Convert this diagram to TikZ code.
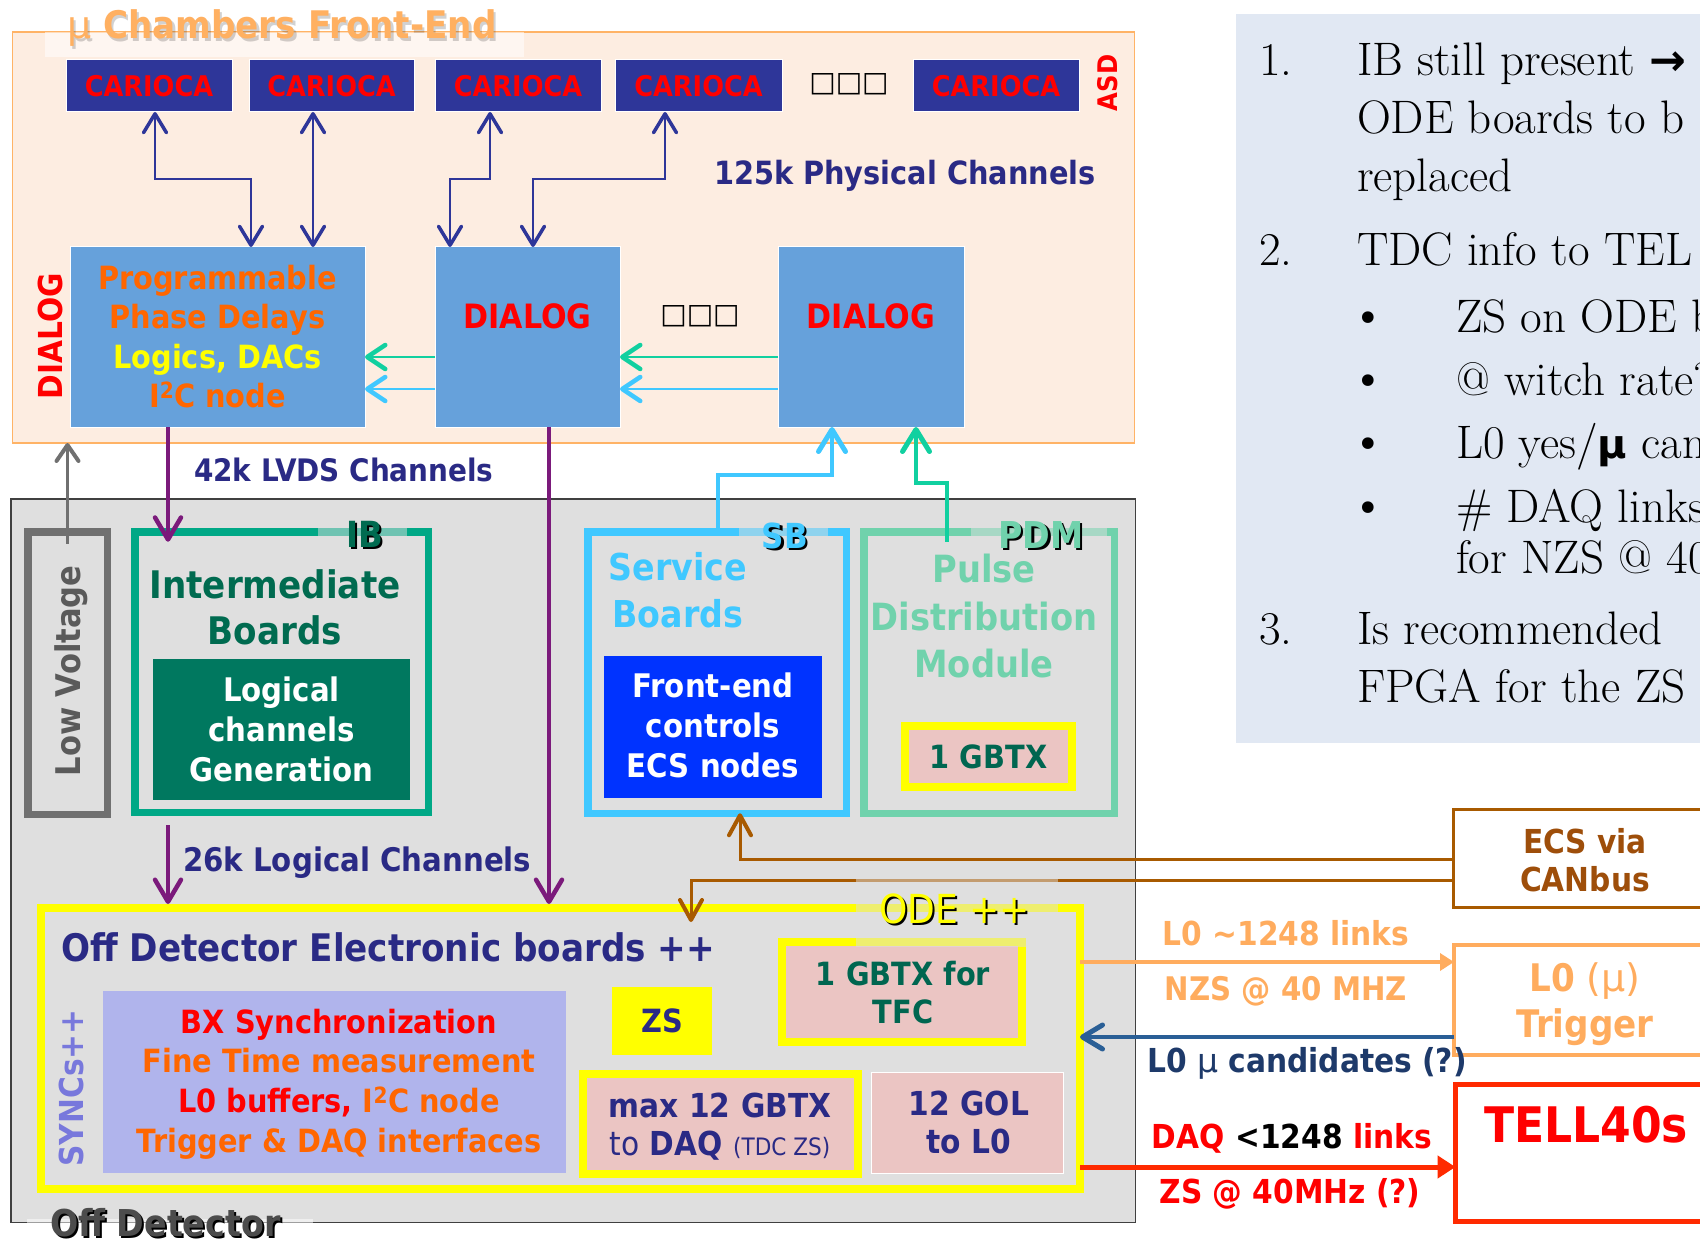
\documentclass[tikz,border=0pt]{standalone}
\usepackage{fontspec}
\newfontfamily\tah{DejaVu Sans}[FakeStretch=0.9]
\newfontfamily\djv{DejaVu Sans}
\newfontfamily\lser{Liberation Serif}
\usetikzlibrary{arrows.meta}
\newcommand{\fsz}[2]{\fontsize{#1pt}{#2pt}\selectfont}
\definecolor{cFE}{HTML}{FDEDE1}
\definecolor{cFEb}{HTML}{FFB366}
\definecolor{cTitle}{HTML}{FFB061}
\definecolor{cCar}{HTML}{2E3699}
\definecolor{cNavy}{HTML}{2A2A85}
\definecolor{cDia}{HTML}{66A1DB}
\definecolor{cOr}{HTML}{FF6600}
\definecolor{cYel}{HTML}{FFFF00}
\definecolor{cGrnA}{HTML}{11D0A0}
\definecolor{cCyan}{HTML}{40C8FF}
\definecolor{cPur}{HTML}{7B1A7B}
\definecolor{cOff}{HTML}{DFDFDF}
\definecolor{cOffB}{HTML}{404040}
\definecolor{cLV}{HTML}{707070}
\definecolor{cLVt}{HTML}{5A5A5A}
\definecolor{cIB}{HTML}{00A886}
\definecolor{cIBt}{HTML}{006B50}
\definecolor{cIBin}{HTML}{00785F}
\definecolor{cBlue}{HTML}{0033FF}
\definecolor{cPDM}{HTML}{70D2AC}
\definecolor{cPink}{HTML}{EBC5C3}
\definecolor{cLav}{HTML}{B0B4EC}
\definecolor{cSync}{HTML}{7878DC}
\definecolor{cTFC}{HTML}{006650}
\definecolor{cBrown}{HTML}{A85A00}
\definecolor{cECSt}{HTML}{9E4E0A}
\definecolor{cL0}{HTML}{FFAC5E}
\definecolor{cCandL}{HTML}{2A5F96}
\definecolor{cCandT}{HTML}{1E3A6A}
\definecolor{cRedL}{HTML}{FF2A00}
\definecolor{cInfo}{HTML}{E1E8F3}
\tikzset{
  tipN/.tip={Straight Barb[length=19pt,width=23pt,line width=3.5pt,round]},
  tipG/.tip={Straight Barb[length=18pt,width=24pt,line width=4.5pt,round]},
  tipP/.tip={Straight Barb[length=22pt,width=26pt,line width=4.5pt,round]},
  tipL/.tip={Straight Barb[length=16pt,width=22pt,line width=4pt,round]},
  tipC/.tip={Straight Barb[length=22pt,width=27pt,line width=5pt,round]},
  tipB/.tip={Straight Barb[length=20pt,width=22pt,line width=4pt,round]},
  tipT/.tip={Triangle[length=14pt,width=17pt]},
  tipD/.tip={Straight Barb[length=20pt,width=24pt,line width=5pt,round]},
  tipR/.tip={Triangle[length=18pt,width=22pt]},
  bx/.style={rectangle, inner sep=0pt, outer sep=0pt, anchor=north west},
  t/.style n args={2}{inner sep=0pt, outer sep=0pt, align=center, font={\tah\bfseries\fsz{#1}{#2}}},
  ser/.style={inner sep=0pt, outer sep=0pt, anchor=base west, font={\fsz{47}{47}}},
  bul/.style={inner sep=0pt, outer sep=0pt, anchor=base west, font={\djv\fsz{40}{40}}},
  car/.style={bx, fill=cCar, draw=white, line width=1pt, minimum height=52pt, text=red, font={\tah\bfseries\fsz{28.5}{28.5}}},
  dia/.style={bx, fill=cDia, draw=white, line width=1pt, minimum height=180pt},
  thick box/.style={bx, line width=7.5pt},
  ybox/.style={bx, draw=cYel, line width=8pt, fill=cPink},
  navyarr/.style={draw=cCar, line width=2pt, tipN-tipN},
  grnarr/.style={draw=cGrnA, line width=2pt, -tipG},
  cyanarr/.style={draw=cCyan, line width=2pt, -tipG},
  purarr/.style={draw=cPur, line width=4.5pt, -tipP},
  grayarr/.style={draw=cLV, line width=3.5pt, -tipL},
  sbconn/.style={draw=cCyan, line width=4.5pt, -tipC},
  pdmconn/.style={draw=cGrnA, line width=4.5pt, -tipC},
  brownarr/.style={draw=cBrown, line width=3pt, -tipB},
  orarr/.style={draw=cL0, line width=4.5pt, -tipT},
  bluearr/.style={draw=cCandL, line width=4.5pt, -tipD},
  redarr/.style={draw=cRedL, line width=5pt, -tipR},
  lblbg/.style={bx, fill=cOff, fill opacity=0.5, minimum height=10pt},
}
\begin{document}
\begin{tikzpicture}[x=1pt,y=-1pt]
\useasboundingbox (0,0) rectangle (1700,1241);
\fill[white] (0,0) rectangle (1700,1241);

% ---------- info box ----------
\node[bx, fill=cInfo, minimum width=520pt, minimum height=729pt] (info) at (1236,14) {};
\node[ser] (n1) at (1259,76) {1.};
\node[ser] (i1) at (1357,76) {IB still present {\djv\bfseries\fsz{44}{44}→}};
\node[ser] (i2) at (1357,134) {ODE boards to b};
\node[ser] (i3) at (1357,192) {replaced};
\node[ser] (n2) at (1259,266) {2.};
\node[ser] (i4) at (1357,266) {TDC info to TEL};
\node[bul] (bu1) at (1356,332) {•};
\node[ser] (i5) at (1456,332) {ZS on ODE b};
\node[bul] (bu2) at (1356,395) {•};
\node[ser] (i6) at (1456,395) {@ witch rate?};
\node[bul] (bu3) at (1356,458) {•};
\node[ser] (i7) at (1456,458) {L0 yes/{\djv\bfseries\fsz{40}{40}μ} cand};
\node[bul] (bu4) at (1356,522) {•};
\node[ser] (i8) at (1456,522) {\# DAQ links};
\node[ser] (i9) at (1456,573) {for NZS @ 40};
\node[ser] (n3) at (1259,644) {3.};
\node[ser] (i10) at (1357,644) {Is recommended};
\node[ser] (i11) at (1357,702) {FPGA for the ZS};

% ---------- front-end ----------
\node[bx, draw=cFEb, line width=1.5pt, fill=cFE, minimum width=1122pt, minimum height=411pt] (fe) at (12.5,32) {};
\node[bx, fill=white, fill opacity=0.55, minimum width=479pt, minimum height=25pt] (titlebg) at (45,32) {};
\node[t={38}{38}, anchor=base west, text=black, text opacity=0.18] (titlesh) at (69.5,41.5) {{\djv\mdseries μ} Chambers Front-End};
\node[t={38}{38}, anchor=base west, text=cTitle] (title) at (67,39) {{\djv\mdseries μ} Chambers Front-End};

\node[car, minimum width=166pt] (c1) at (66,60) {CARIOCA};
\node[car, minimum width=165pt] (c2) at (249,60) {CARIOCA};
\node[car, minimum width=166pt] (c3) at (435,60) {CARIOCA};
\node[car, minimum width=167pt] (c4) at (615,60) {CARIOCA};
\node[car, minimum width=166pt] (c5) at (913,60) {CARIOCA};
\node[inner sep=0pt, font={\djv\bfseries\fsz{28}{28}}] (dots1) at (849,84) {□□□};
\node[t={27}{27}, rotate=90, text=red] (asd) at (1108,83) {ASD};
\node[t={32}{32}, anchor=base west, text=cNavy] (phys) at (714,185) {125k Physical Channels};

\node[dia, minimum width=295pt] (prog) at (70,247) {};
\node[t={32}{39.5}, anchor=north, text=cOr] (progt) at (217.5,264.7) {Programmable\\Phase Delays\\\textcolor{cYel}{Logics, DACs}\\I\textsuperscript{2}C node};
\node[dia, minimum width=185pt] (d2) at (435,247) {};
\node[dia, minimum width=186pt] (d3) at (778,247) {};
\node[t={33.5}{33.5}, anchor=base, text=red] (d2t) at (527.5,328) {DIALOG};
\node[t={33.5}{33.5}, anchor=base, text=red] (d3t) at (871,328) {DIALOG};
\node[inner sep=0pt, font={\djv\bfseries\fsz{28}{28}}] (dots2) at (700,316) {□□□};
\node[t={33}{33}, rotate=90, text=red] (dl) at (50,336) {DIALOG};

\draw[navyarr] ([xshift=89pt]c1.south west) -- ++(0,67) -| ([xshift=181pt]prog.north west);
\draw[navyarr] ([xshift=64pt]c2.south west) -- ([xshift=243pt]prog.north west);
\draw[navyarr] ([xshift=55pt]c3.south west) -- ++(0,67) -| ([xshift=15pt]d2.north west);
\draw[navyarr] ([xshift=50pt]c4.south west) -- ++(0,67) -| ([xshift=98pt]d2.north west);

\draw[grnarr] ([yshift=-110pt]d2.north west) -- ([yshift=-110pt]prog.north east);
\draw[grnarr] ([yshift=-110pt]d3.north west) -- ([yshift=-110pt]d2.north east);
\draw[cyanarr] ([yshift=-142pt]d2.north west) -- ([yshift=-142pt]prog.north east);
\draw[cyanarr] ([yshift=-142pt]d3.north west) -- ([yshift=-142pt]d2.north east);

\node[t={31}{31}, anchor=base west, text=cNavy] (lvds) at (194,481) {42k LVDS Channels};

% ---------- off detector ----------
\node[bx, draw=cOffB, line width=1.5pt, fill=cOff, minimum width=1124.5pt, minimum height=723.5pt] (off) at (10.75,498.75) {};

\node[thick box, draw=cLV, minimum width=79.5pt, minimum height=282.5pt] (lv) at (27.75,531.75) {};
\node[t={34}{34}, rotate=90, text=cLVt] (lvt) at (71,671) {Low Voltage};

\node[thick box, draw=cIB, minimum width=293.5pt, minimum height=280.5pt] (ib) at (134.75,531.75) {};
\node[t={38}{46}, anchor=north, text=cIBt] (ibt) at (275,570.1) {Intermediate\\Boards};
\node[bx, fill=cIBin, minimum width=257pt, minimum height=141pt] (ibin) at (153,659) {};
\node[t={32.5}{40}, anchor=north, text=white] (ibint) at (281.5,677.3) {Logical\\channels\\Generation};

\node[thick box, draw=cCyan, minimum width=258.5pt, minimum height=281.5pt] (sb) at (587.75,531.75) {};
\node[t={37}{47}, anchor=north, text=cCyan] (sbt) at (678,551.9) {Service\\Boards};
\node[bx, fill=cBlue, minimum width=218pt, minimum height=142pt] (sbin) at (604,656) {};
\node[t={32.5}{40}, anchor=north, text=white] (sbint) at (713,673.3) {Front-end\\controls\\ECS nodes};

\node[thick box, draw=cPDM, minimum width=250.5pt, minimum height=281.5pt] (pdm) at (863.75,531.75) {};
\node[t={37.5}{47.5}, anchor=north, text=cPDM] (pdmt) at (984,554.5) {Pulse\\Distribution\\Module};
\node[ybox, minimum width=167pt, minimum height=61pt] (gbtx) at (905,726) {};
\node[t={32}{32}, anchor=base, text=cTFC] (gbtxt) at (988.5,768) {1 GBTX};

\node[bx, draw=cYel, line width=8pt, minimum width=1039pt, minimum height=281pt] (ode) at (41,908) {};
\node[t={38}{38}, anchor=base west, text=cNavy] (odet) at (61,961) {Off Detector Electronic boards ++};
\node[t={33}{33}, rotate=90, text=cSync] (sync) at (71,1088) {SYNCs++};
\node[bx, fill=cLav, minimum width=463pt, minimum height=182pt] (lav) at (103,991) {};
\node[t={32}{39.7}, anchor=north, text=cOr] (lavt) at (339,1008.7) {\textcolor{red}{BX Synchronization}\\Fine Time measurement\\\textcolor{red}{L0 buffers,} I\textsuperscript{2}C node\\Trigger \& DAQ interfaces};
\node[bx, fill=cYel, minimum width=100pt, minimum height=68pt, text=cNavy, font={\tah\bfseries\fsz{32}{32}}] (zs) at (612,987) {ZS};
\node[ybox, minimum width=240pt, minimum height=100pt] (tfc) at (782,942) {};
\node[t={32}{38}, anchor=north, text=cTFC] (tfct) at (903,960.7) {1 GBTX for\\TFC};
\node[ybox, minimum width=275pt, minimum height=100pt] (daq) at (583,1074) {};
\node[t={33}{38}, anchor=north, text=cNavy] (daqt) at (720,1093) {max 12 GBTX\\{\mdseries to} DAQ {\mdseries\fontsize{24pt}{38pt}\selectfont (TDC ZS)}};
\node[bx, fill=cPink, draw=white, line width=1pt, minimum width=192pt, minimum height=101pt] (gol) at (871,1072) {};
\node[t={33}{38}, anchor=north, text=cNavy] (golt) at (969,1091) {12 GOL\\to L0};

% ---------- right side boxes ----------
\node[bx, draw=cBrown, line width=3pt, fill=white, minimum width=400pt, minimum height=98pt] (ecs) at (1453.5,809.5) {};
\node[t={33}{38}, anchor=north, text=cECSt] (ecst) at (1585,828) {ECS via\\CANbus};
\node[bx, draw=cL0, line width=4pt, fill=white, minimum width=400pt, minimum height=110pt] (l0) at (1454,945) {};
\node[t={38}{46}, anchor=north, text=cL0] (l0t) at (1585,963) {L0 {\djv\mdseries\fsz{38}{46}(μ)}\\Trigger};
\node[bx, draw=cRedL, line width=5pt, fill=white, minimum width=400pt, minimum height=137pt] (tell) at (1455.5,1084.5) {};
\node[t={49}{49}, anchor=base west, text=red] (tellt) at (1484,1142) {TELL40s};

% ---------- connectors ----------
\draw[grayarr] ([yshift=-12pt]lv.north) -- (lv.north |- fe.south);
\draw[purarr] ([xshift=98pt]prog.south west) -- ([xshift=33.25pt,yshift=-10pt]ib.north west);
\coordinate (p2s) at ([xshift=114pt]d2.south west);
\coordinate (p2e) at (p2s |- ode.north);
\draw[purarr] (p2s) -- ([yshift=4pt]p2e);
\coordinate (p3s) at ([xshift=33.25pt,yshift=-13pt]ib.south west);
\coordinate (p3e) at (p3s |- ode.north);
\draw[purarr] (p3s) -- ([yshift=4pt]p3e);
\node[t={32.5}{32.5}, anchor=base west, text=cNavy] (logch) at (183,871) {26k Logical Channels};

\draw[sbconn] ([xshift=130.25pt]sb.north west) -- ++(0,-56.75) -| ([xshift=54pt]d3.south west);
\draw[pdmconn] ([xshift=83.25pt,yshift=-10pt]pdm.north west) -- ++(0,-58.75) -| ([xshift=138pt]d3.south west);

\draw[brownarr] ([yshift=-49.5pt]ecs.north west) -| ([xshift=152.25pt]sb.south west);
\draw[brownarr] ([yshift=-70.5pt]ecs.north west) -| ([xshift=650pt,yshift=-14pt]ode.north west);

\draw[orarr] ([yshift=-54pt]ode.north east) -- ([yshift=-17pt]l0.north west);
\draw[bluearr] ([yshift=-92pt]l0.north west) -- ([yshift=-129pt]ode.north east);
\draw[redarr] ([yshift=-259pt]ode.north east) -- ([yshift=-82.5pt]tell.north west);

\node[t={33}{33}, anchor=base, text=cL0] (l0a) at (1286,945) {L0 \textasciitilde1248 links};
\node[t={32.5}{32.5}, anchor=base, text=cL0] (l0b) at (1286,1000) {NZS @ 40 MHZ};
\node[t={33}{33}, anchor=base, text=cCandT] (cand) at (1307,1072) {L0 {\djv\mdseries μ} candidates (?)};
\node[t={33}{33}, anchor=base, text=red] (daqa) at (1292,1148) {DAQ \textcolor{black}{<1248} links};
\node[t={33}{33}, anchor=base, text=red] (daqb) at (1290,1203) {ZS @ 40MHz (?)};

% ---------- labels with translucent backgrounds ----------
\node[lblbg, minimum width=89pt] (ibbg) at (318,527) {};
\node[lblbg, minimum width=89pt] (sbbg) at (739,527) {};
\node[lblbg, minimum width=136pt] (pdmbg) at (971,527) {};
\node[lblbg, minimum width=202pt, minimum height=71pt] (odebg) at (856,876) {};
\node[t={36}{36}, anchor=base, text=black] (ibsh) at (367,549.5) {IB};
\node[t={36}{36}, anchor=base, text=cIBt] (ibl) at (364.5,547) {IB};
\node[t={34.5}{34.5}, anchor=base, text=black] (sbsh) at (787.5,550.5) {SB};
\node[t={34.5}{34.5}, anchor=base, text=cCyan] (sbl) at (785,548) {SB};
\node[t={37}{37}, anchor=base, text=black] (pdmsh) at (1043.5,550.5) {PDM};
\node[t={37}{37}, anchor=base, text=cPDM] (pdml) at (1041,548) {PDM};
\node[t={40}{40}, anchor=base west, text=black, font={\tah\fsz{40}{40}}] (odesh) at (881.5,925.5) {ODE ++};
\node[t={40}{40}, anchor=base west, text=cYel, font={\tah\fsz{40}{40}}] (odel) at (879,923) {ODE ++};
\node[bx, fill=white, fill opacity=0.5, minimum width=286pt, minimum height=22pt] (offbg) at (27,1219) {};
\node[t={37}{37}, anchor=base west, text=black] (offsh) at (52,1238.5) {Off Detector};
\node[t={37}{37}, anchor=base west, text=black!70] (offl) at (50,1236.5) {Off Detector};
\end{tikzpicture}
\end{document}
